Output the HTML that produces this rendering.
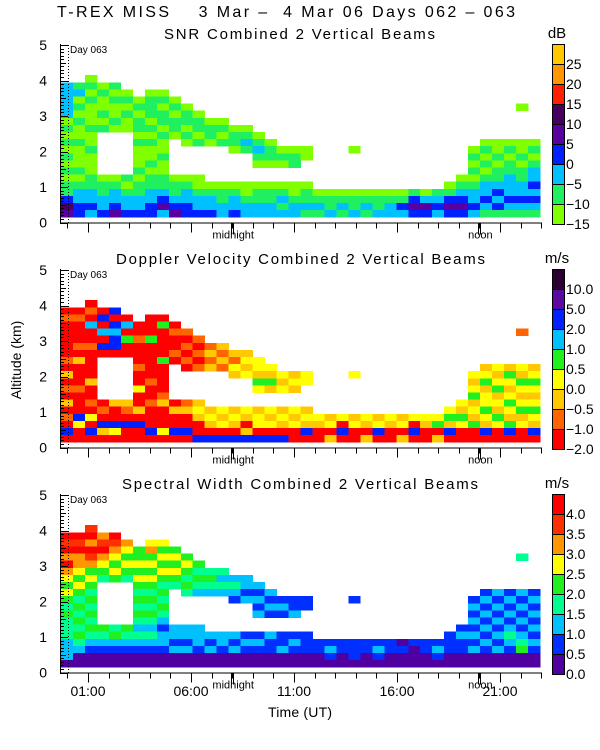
<!DOCTYPE html>
<html><head><meta charset="utf-8"><style>
body{margin:0;background:#fff;}
svg{display:block;font-family:"Liberation Sans",sans-serif;}
text{white-space:pre;}
</style></head><body>
<svg id="chart" width="600" height="750" viewBox="0 0 600 750" xmlns="http://www.w3.org/2000/svg">
<text x="57" y="17" font-size="16" textLength="458" lengthAdjust="spacing" fill="#000" xml:space="preserve">T-REX MISS    3 Mar –  4 Mar 06 Days 062 – 063</text>
<text transform="translate(21,360) rotate(-90)" font-size="14" text-anchor="middle">Altitude (km)</text>
<text x="268" y="717" font-size="14" textLength="64" lengthAdjust="spacing">Time (UT)</text>
<g id="layer"></g>
</svg>
<script>
// ---- data ----
const panelTitles = ["SNR Combined 2 Vertical Beams","Doppler Velocity Combined 2 Vertical Beams","Spectral Width Combined 2 Vertical Beams"];
const panelUnits = ["dB","m/s","m/s"];
const snrTicks = ["25","20","15","10","5","0","\u22125","\u221210","\u221215"];
const dopTicks = ["10.0","5.0","2.0","1.0","0.5","0.0","\u22120.5","\u22121.0","\u22122.0"];
const swTicks = ["4.0","3.5","3.0","2.5","2.0","1.5","1.0","0.5","0.0"];
const snrColors = ["#80ff00","#20f060","#00c0ff","#0020ff","#5800a0","#480060","#ff2000","#ff9600","#ffc800"];
const dopColors = ["#ff0000","#ff6400","#ffc800","#ffff00","#20f020","#00c0ff","#0020ff","#5a0aa0","#2a0030"];
const swColors = ["#5000a0","#0030ff","#00c0ff","#00ff90","#20f020","#ffff00","#ff9600","#ff3000","#ff0000"];
const timeLabels = ["01:00","06:00","11:00","16:00","21:00"];
const timeLabelHours = [1,6,11,16,21];
const altTicks = [0,1,2,3,4,5];
const colStartHour = -0.31;
const colHours = 0.58125;
const rowTopKm = 4.15;
const rowKm = 0.2;
// each string: one time column, rows from 4.15 km (top) downward, '.' = no echo, digit = colour bin
const snrGrid = [
".2222201010101011354",".1201010010001012233","01010001001000112232",".0100101......011223",".1010010......012234",
"..010100......101223","...01011010001011223","..011101010010112233","..010110100100112342","...010110.....011234",
"....011010....012233",".....01101....001223","......0110.....01223","......0101.....01122",".......0110....01223",
".......0121....00122","........01210..01122",".........0110..01122","..........010..01212","..........011..00122",
"..........00...01121","................0121","................0112","................0121","..........0.....0112",
"................0121","................0112","................0122","................0132","................1343",
"................0243","................1232","...............01343","..............012343","..........0101012232",
".........01010122321",".........00101123231",".........01011222321","....0....00101122321",".........01012232321"];
const dopGrid = [
".0100000102010201060",".0100010200010006300","01050010000200103060",".0605060......010620",".6065660......200630",
"..050400......210600","...00100010030020600","..000400000100100060","..040000400001200030","...010010.....020060",
"....101010....120060",".....10101....232006","......1212.....23206","......2121.....32306",".......2132....23206",
".......2323....32026","........33243..23306",".........3242..32306","..........323..23206","..........232..32300",
"..........33...23260","................3200","................2302","................3060","..........3.....2300",
"................3202","................2360","................3200","................2302","................3060",
"................3200","................3402","...............34260","..............324300","..........3234232400",
".........23423343260",".........32342324300",".........24323432460","....1....32432342300",".........23432343260"];
const swGrid = [
".8786865454343332220",".8786654543434343200","78687645434343432100",".6786543......432100",".8765454......342100",
"..654543......432100","...44545434343232100","..564545434343232100","..545454343432122100","...454543.....221200",
"....454343....221200",".....43432....222100","......3432.....21200","......3232.....22100",".......2321....21200",
".......2212....12100","........21212..12100",".........2121..21100","..........121..11200","..........112..12100",
"..........11...11100","................1100","................1210","................1100","..........1.....1110",
"................1100","................1210","................1100","................0100","................1000",
"................1100","................1210","...............11100","..............121100","..........1212121200",
".........12121212100",".........21212121200",".........12121232100","....3....21212123400",".........12121212100"];
const grids = [snrGrid, dopGrid, swGrid];
const palettes = [snrColors, dopColors, swColors];
const tickSets = [snrTicks, dopTicks, swTicks];
const titleX = [164, 116, 122];
const titleW = [271, 369, 356];

// ---- geometry ----
const NS = "http://www.w3.org/2000/svg";
const layer = document.getElementById("layer");
const bases = [45, 270, 495];
const KM = 35.5;
function xOf(h){ return 67.4 + 20.6*h; }
function yOf(base, km){ return base + (5-km)*KM; }
function mk(tag, attrs, parent){
  const e = document.createElementNS(NS, tag);
  for (const k in attrs) e.setAttribute(k, attrs[k]);
  (parent||layer).appendChild(e);
  return e;
}
function txt(s, attrs, parent){ const t = mk("text", attrs, parent); t.textContent = s; return t; }

grids.forEach((grid, p) => {
  const base = bases[p];
  const g = mk("g", {});
  
  
  const t = txt(panelTitles[p], {x: titleX[p], y: base-6, "font-size": 15, textLength: titleW[p], lengthAdjust: "spacing"}, g);
  
  
  const cells = mk("g", {"shape-rendering": "crispEdges"}, g);
  
  
  grid.forEach((col, c) => {
    const x0 = xOf(colStartHour + c*colHours), x1 = xOf(colStartHour + (c+1)*colHours);
    for (let r = 0; r < col.length; r++) {
      const ch = col[r];
      if (ch === ".") continue;
      const top = rowTopKm - r*rowKm;
      const y0 = yOf(base, top), y1 = yOf(base, top - rowKm);
      const rc = mk("rect", {x: x0.toFixed(1), y: y0.toFixed(1), width: (x1-x0+0.3).toFixed(1), height: (y1-y0+0.3).toFixed(1), fill: palettes[p][+ch]}, cells);
      
      
    }
  });
  const y0 = yOf(base, 0);
  const ax = mk("g", {stroke: "#000", "stroke-width": 1, "shape-rendering": "crispEdges"}, g);
  
  
  mk("line", {x1: 60.5, y1: base-1, x2: 60.5, y2: y0+1}, ax);
  mk("line", {x1: 60, y1: y0+0.5, x2: 541, y2: y0+0.5}, ax);
  for (let k = 0; k <= 50; k++) {
    const yy = Math.round(yOf(base, k/10)) + 0.5;
    const len = (k % 10 === 0) ? 8 : (k % 5 === 0 ? 6 : 4);
    mk("line", {x1: 60, y1: yy, x2: 60+len, y2: yy}, ax);
  }
  altTicks.forEach(a => {
    const l = txt(String(a), {x: 47, y: yOf(base, a)+5, "font-size": 14, "text-anchor": "end", stroke: "none"}, g);
    
    
  });
  for (let h = 0; h <= 23; h++) {
    const xx = Math.round(xOf(h)) + 0.5;
    const len = (h % 5 === 1) ? 10 : 6;
    mk("line", {x1: xx, y1: y0, x2: xx, y2: y0+len}, ax);
  }
  [8, 20].forEach(h => {
    const xx = Math.round(xOf(h)) + 0.5;
    mk("line", {x1: xx-1, y1: y0, x2: xx-1, y2: y0+12}, ax);
    mk("line", {x1: xx+1, y1: y0, x2: xx+1, y2: y0+12}, ax);
  });
  const m1 = txt("midnight", {x: xOf(8)+1, y: y0+16, "font-size": 11, "text-anchor": "middle"}, g);
  
  
  const m2 = txt("noon", {x: xOf(20)+1, y: y0+16, "font-size": 11, "text-anchor": "middle"}, g);
  
  
  const dl = mk("line", {x1: 68.5, y1: base, x2: 68.5, y2: y0, stroke: "#000", "stroke-dasharray": "1 2"}, g);
  
  
  const dt = txt("Day 063", {x: 70, y: base+8, "font-size": 10}, g);
  
  
  const cb = mk("g", {}, g);
  
  
  const cbTop = base - 1;
  for (let i = 0; i < 9; i++) {
    const r = mk("rect", {x: 552.5, y: cbTop + i*20 + 0.5, width: 12, height: 20, fill: palettes[p][8-i], stroke: "#000", "stroke-width": 1}, cb);
    
    
    const l = txt(tickSets[p][i], {x: 566, y: cbTop + (i+1)*20 + 5, "font-size": 14}, cb);
    
    
  }
  const u = txt(panelUnits[p], {x: 557, y: base-7, "font-size": 15, "text-anchor": "middle"}, cb);
  
  
});
timeLabels.forEach((s, i) => {
  const l = txt(s, {x: xOf(timeLabelHours[i]), y: 696, "font-size": 14, "text-anchor": "middle"});
  
  
});
</script>
</body></html>
